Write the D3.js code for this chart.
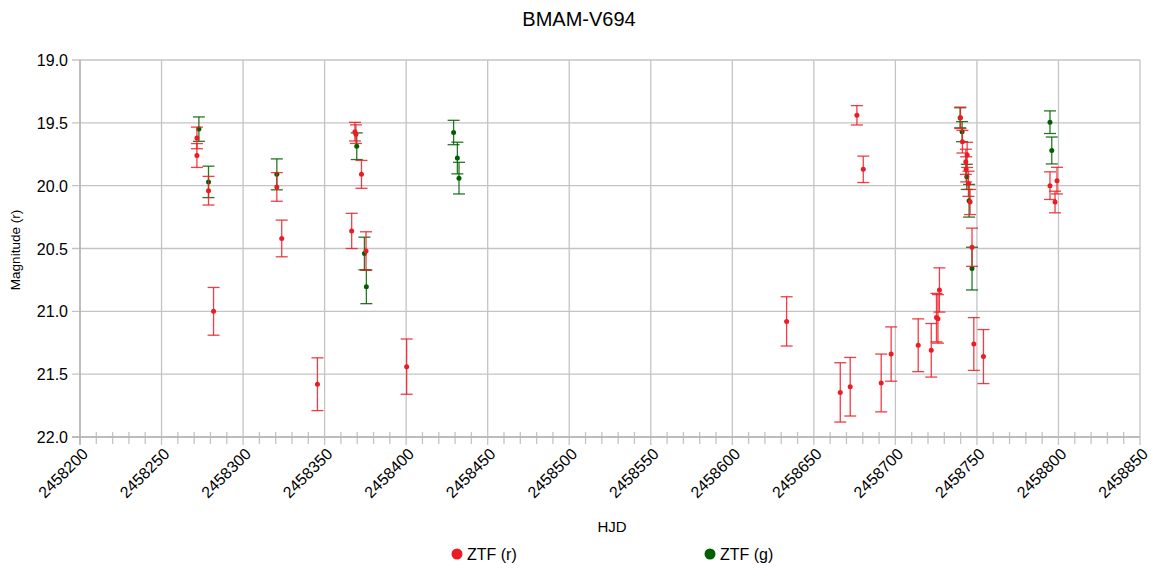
<!DOCTYPE html>
<html><head><meta charset="utf-8">
<script src="https://cdn.jsdelivr.net/npm/d3@7"></script>
<style>
body{margin:0;background:#fff;}
text{font-family:Arial,"Liberation Sans",sans-serif;fill:#000;}
</style></head>
<body><svg id="c" width="1158" height="583"></svg>
<script>
const title = "BMAM-V694";
const xTicks = [2458200,2458250,2458300,2458350,2458400,2458450,2458500,2458550,2458600,2458650,2458700,2458750,2458800,2458850];
const yTicks = [19.0,19.5,20.0,20.5,21.0,21.5,22.0];
const seriesNames = ["ZTF (r)","ZTF (g)"];
const seriesColors = ["#ec1c24","#006000"];

const rHJD = [2458271.7,2458271.7,2458278.8,2458281.9,2458320.7,2458323.7,2458345.6,2458368.6,2458369.2,2458372.6,2458366.6,2458375.4,2458400.3,
  2458633.3,2458666.2,2458672.3,2458676.4,2458680.3,2458691.3,2458697.4,2458714.0,2458722.0,2458725.2,2458726.1,2458727.0,
  2458739.9,2458741.1,2458744.0,2458743.2,2458743.4,2458744.8,2458745.8,2458747.0,2458748.1,2458754.0,2458794.8,2458799.1,2458797.9];
const rMag = [19.62,19.76,20.04,21.00,20.01,20.42,21.58,19.57,19.59,19.91,20.36,20.52,21.44,
  21.08,21.645,21.60,19.44,19.87,21.57,21.34,21.27,21.31,21.05,21.06,20.83,
  19.46,19.65,19.755,19.81,19.87,19.985,20.13,20.49,21.26,21.36,20.00,19.96,20.13];
const rErr = [0.086,0.095,0.114,0.19,0.114,0.146,0.21,0.074,0.074,0.111,0.14,0.153,0.22,
  0.196,0.236,0.233,0.077,0.105,0.23,0.216,0.21,0.213,0.193,0.193,0.176,
  0.085,0.09,0.1,0.1,0.1,0.1,0.1,0.152,0.21,0.215,0.11,0.106,0.086];

const gHJD = [2458272.9,2458278.8,2458320.7,2458369.7,2458374.4,2458375.6,2458429.1,2458431.4,2458432.4,
  2458739.7,2458740.9,2458743.8,2458745.2,2458747.0,2458794.8,2458795.9];
const gMag = [19.55,19.97,19.91,19.686,20.54,20.805,19.577,19.78,19.94,
  19.46,19.57,19.93,20.12,20.66,19.495,19.72];
const gErr = [0.097,0.125,0.123,0.106,0.13,0.134,0.097,0.126,0.126,
  0.08,0.08,0.1,0.13,0.17,0.09,0.107];

const svg = d3.select("#c");
const L=80,R=1140,T=60,B=437;
const x = d3.scaleLinear().domain([2458200,2458850]).range([L,R]);
const y = d3.scaleLinear().domain([19,22]).range([T,B]);
const grid="#c4c4c4";

// grid
svg.append("g").selectAll("line").data(yTicks).join("line")
  .attr("x1",L-8).attr("x2",R).attr("y1",d=>y(d)).attr("y2",d=>y(d))
  .attr("stroke",grid).attr("stroke-width",1.3);
svg.append("g").selectAll("line").data(xTicks).join("line")
  .attr("x1",d=>x(d)).attr("x2",d=>x(d)).attr("y1",T).attr("y2",B+8)
  .attr("stroke",grid).attr("stroke-width",1.3);
// minor ticks
const minor = d3.range(2458200,2458851,10).filter(v=>(v-2458200)%50!==0);
svg.append("g").selectAll("line").data(minor).join("line")
  .attr("x1",d=>x(d)).attr("x2",d=>x(d)).attr("y1",B-5).attr("y2",B+7)
  .attr("stroke",grid).attr("stroke-width",1.3);
// axis lines
svg.append("line").attr("x1",L).attr("x2",L).attr("y1",T).attr("y2",B+8).attr("stroke","#b4b4b4").attr("stroke-width",1.5);
svg.append("line").attr("x1",L-8).attr("x2",R).attr("y1",B).attr("y2",B).attr("stroke","#b4b4b4").attr("stroke-width",1.5);

// tick labels
svg.append("g").selectAll("text").data(yTicks).join("text")
  .attr("x",L-12).attr("y",d=>y(d)+6).attr("text-anchor","end")
  .style("font-size","16px").text(d=>d.toFixed(1));
svg.append("g").selectAll("text").data(xTicks).join("text")
  .attr("transform",d=>`translate(${x(d)+5},${B+14}) rotate(-45)`)
  .attr("text-anchor","end").attr("dy","0.35em")
  .style("font-size","16px").text(d=>d);

// titles
svg.append("text").attr("x",579).attr("y",26).attr("text-anchor","middle").style("font-size","20px").text(title);
svg.append("text").attr("x",612).attr("y",532).attr("text-anchor","middle").style("font-size","15px").text("HJD");
svg.append("text").attr("transform","translate(20,250) rotate(-90)").attr("text-anchor","middle").style("font-size","13.5px").text("Magnitude (r)");

function drawSeries(hjd,mag,err,color){
  const data = hjd.map((h,i)=>({h,m:mag[i],e:err[i]}));
  const g = svg.append("g");
  const eb = g.selectAll("g.eb").data(data).join("g").attr("stroke",color).attr("stroke-width",1.3).attr("stroke-opacity",0.85);
  eb.append("line").attr("x1",d=>x(d.h)).attr("x2",d=>x(d.h)).attr("y1",d=>y(d.m-d.e)).attr("y2",d=>y(d.m+d.e));
  eb.append("line").attr("x1",d=>x(d.h)-6).attr("x2",d=>x(d.h)+6).attr("y1",d=>y(d.m-d.e)).attr("y2",d=>y(d.m-d.e));
  eb.append("line").attr("x1",d=>x(d.h)-6).attr("x2",d=>x(d.h)+6).attr("y1",d=>y(d.m+d.e)).attr("y2",d=>y(d.m+d.e));
  g.selectAll("circle").data(data).join("circle").attr("cx",d=>x(d.h)).attr("cy",d=>y(d.m)).attr("r",2.5).attr("fill",color);
}
drawSeries(gHJD,gMag,gErr,seriesColors[1]);
drawSeries(rHJD,rMag,rErr,seriesColors[0]);

// legend
const legX=[457,710];
seriesNames.forEach((n,i)=>{
  svg.append("circle").attr("cx",legX[i]).attr("cy",554).attr("r",5.5).attr("fill",seriesColors[i]);
  svg.append("text").attr("x",legX[i]+10).attr("y",560).style("font-size","16px").text(n);
});
</script></body></html>
